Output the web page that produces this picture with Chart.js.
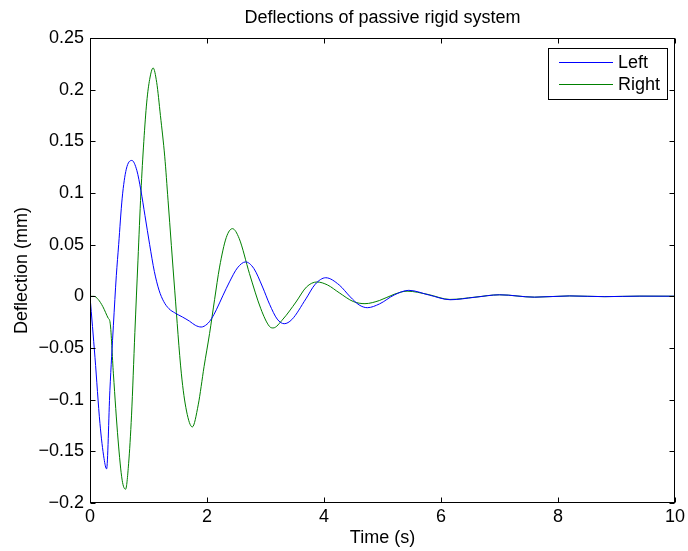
<!DOCTYPE html>
<html>
<head>
<meta charset="utf-8">
<script src="https://cdn.jsdelivr.net/npm/chart.js@4/dist/chart.umd.min.js"></script>
<style>
html,body{margin:0;padding:0;background:#fff;}
canvas{display:block;}
</style>
</head>
<body>
<canvas id="c" width="688" height="551"></canvas>
<script>
// ---- data ----
const chartTitle = 'Deflections of passive rigid system';
const xTitle = 'Time (s)';
const yTitle = 'Deflection (mm)';
const seriesNames = ['Left', 'Right'];

const leftT = [0, 0.085, 0.17, 0.24, 0.284, 0.34, 0.40, 0.45, 0.49, 0.55, 0.62, 0.716, 0.80, 0.87, 0.94, 1.02, 1.10, 1.18, 1.26, 1.35, 1.45, 1.58, 1.70, 1.80, 1.90, 2.0, 2.08, 2.16, 2.27, 2.385, 2.52, 2.66, 2.80, 2.95, 3.07, 3.20, 3.32, 3.45, 3.69, 3.85, 4.03, 4.26, 4.45, 4.6, 4.74, 4.95, 5.2, 5.45, 5.8, 6.16, 6.58, 7.0, 7.6, 8.2, 8.8, 9.4, 10];
const leftV = [0, -0.059, -0.123, -0.157, -0.167, -0.091, -0.028, 0.02, 0.05, 0.095, 0.123, 0.1315, 0.122, 0.1025, 0.078, 0.050, 0.024, 0.006, -0.005, -0.012, -0.016, -0.020, -0.024, -0.028, -0.0297, -0.027, -0.0214, -0.013, 0.0005, 0.014, 0.0275, 0.0333, 0.027, 0.009, -0.0077, -0.022, -0.0265, -0.0225, -0.0025, 0.0117, 0.018, 0.011, -0.0006, -0.0083, -0.011, -0.0073, 0.0013, 0.0058, 0.0012, -0.0033, -0.0009, 0.0015, -0.0008, 0.0004, -0.0003, 0.0002, 0.0001];

const rightT = [0, 0.07, 0.14, 0.22, 0.31, 0.345, 0.40, 0.48, 0.55, 0.608, 0.66, 0.71, 0.767, 0.82, 0.87, 0.92, 0.97, 1.02, 1.079, 1.14, 1.204, 1.278, 1.334, 1.448, 1.562, 1.65, 1.749, 1.85, 1.95, 2.044, 2.13, 2.215, 2.33, 2.435, 2.55, 2.726, 2.92, 3.066, 3.13, 3.30, 3.521, 3.70, 3.88, 4.06, 4.259, 4.5, 4.7, 4.95, 5.2, 5.42, 5.78, 6.15, 6.58, 7.0, 7.6, 8.2, 8.8, 9.4, 10];
const rightV = [0, 0.0, -0.003, -0.010, -0.021, -0.026, -0.075, -0.139, -0.178, -0.1867, -0.162, -0.115, -0.035, 0.035, 0.100, 0.150, 0.188, 0.210, 0.221, 0.207, 0.175, 0.135, 0.093, 0.006, -0.075, -0.111, -0.1264, -0.105, -0.068, -0.036, -0.003, 0.0283, 0.057, 0.0655, 0.056, 0.022, -0.012, -0.029, -0.0306, -0.022, -0.0055, 0.009, 0.0139, 0.011, 0.0035, -0.005, -0.0071, -0.004, 0.002, 0.005, 0.0018, -0.003, -0.0008, 0.0015, -0.0008, 0.0004, -0.0003, 0.0002, 0.0001];

const xTicks = [0, 2, 4, 6, 8, 10];
const xTickLabels = ['0', '2', '4', '6', '8', '10'];
const yTicks = [-0.2, -0.15, -0.1, -0.05, 0, 0.05, 0.1, 0.15, 0.2, 0.25];
const yTickLabels = ['\u22120.2', '\u22120.15', '\u22120.1', '\u22120.05', '0', '0.05', '0.1', '0.15', '0.2', '0.25'];

// ---- styling ----
const FONT = '"Liberation Sans", Arial, Helvetica, sans-serif';
const FS = 18;
const colors = ['#0000ff', '#008000'];

const toXY = (ts, vs) => ts.map((t, i) => ({x: t, y: vs[i]}));

const boxPlugin = {
  id: 'matlabBox',
  beforeDraw(chart) {
    const ctx = chart.ctx;
    ctx.save();
    ctx.fillStyle = '#fff';
    ctx.fillRect(0, 0, chart.width, chart.height);
    ctx.restore();
  },
  afterDraw(chart) {
    const {ctx, chartArea: a, scales} = chart;
    ctx.save();
    ctx.strokeStyle = '#000';
    ctx.lineWidth = 1;
    const L = Math.round(a.left) + 0.5, R = Math.round(a.right) - 0.5;
    const T = Math.round(a.top) + 0.5, B = Math.round(a.bottom) - 0.5;
    ctx.strokeRect(L, T, R - L, B - T);
    const tl = 5;
    ctx.beginPath();
    xTicks.forEach(v => {
      const px = Math.round(scales.x.getPixelForValue(v)) + 0.5;
      ctx.moveTo(px, B); ctx.lineTo(px, B - tl);
      ctx.moveTo(px, T); ctx.lineTo(px, T + tl);
    });
    yTicks.forEach(v => {
      const py = Math.round(scales.y.getPixelForValue(v)) + 0.5;
      ctx.moveTo(L, py); ctx.lineTo(L + tl, py);
      ctx.moveTo(R, py); ctx.lineTo(R - tl, py);
    });
    ctx.stroke();

    // title
    ctx.fillStyle = '#000';
    ctx.font = FS + 'px ' + FONT;
    ctx.textAlign = 'center';
    ctx.textBaseline = 'middle';
    ctx.fillText(chartTitle, (a.left + a.right) / 2, 18);

    // legend (inside, top-right)
    const lx0 = 548.5, ly0 = 48.5, lw = 119, lh = 51;
    ctx.fillStyle = '#fff';
    ctx.fillRect(lx0, ly0, lw, lh);
    ctx.strokeStyle = '#000';
    ctx.strokeRect(lx0, ly0, lw, lh);
    chart.data.datasets.forEach((ds, i) => {
      const y = 62 + i * 22;
      ctx.strokeStyle = ds.borderColor;
      ctx.beginPath();
      ctx.moveTo(559, y + 0.5); ctx.lineTo(613, y + 0.5);
      ctx.stroke();
      ctx.fillStyle = '#000';
      ctx.textAlign = 'left';
      ctx.textBaseline = 'middle';
      ctx.fillText(ds.label, 618, y + 1);
    });
    ctx.restore();
  }
};

new Chart(document.getElementById('c'), {
  type: 'line',
  data: {
    datasets: [
      {label: seriesNames[0], data: toXY(leftT, leftV), borderColor: colors[0]},
      {label: seriesNames[1], data: toXY(rightT, rightV), borderColor: colors[1]}
    ]
  },
  options: {
    responsive: false,
    animation: false,
    devicePixelRatio: 1,
    layout: {padding: {top: 38, right: 11, left: 0, bottom: 0}},
    elements: {
      line: {borderWidth: 1, cubicInterpolationMode: 'monotone', fill: false},
      point: {radius: 0}
    },
    plugins: {legend: {display: false}, title: {display: false}, tooltip: {enabled: false}},
    scales: {
      x: {
        type: 'linear', min: 0, max: 10,
        grid: {display: false, drawTicks: false}, border: {display: false},
        afterBuildTicks: s => { s.ticks = xTicks.map(v => ({value: v})); },
        afterFit: s => { s.height = 48; },
        ticks: {
          color: '#000', padding: 3, maxRotation: 0, autoSkip: false,
          font: {family: FONT, size: FS},
          callback: (v, i) => xTickLabels[i]
        },
        title: {display: true, text: xTitle, color: '#000', font: {family: FONT, size: FS}, padding: {top: 0, bottom: 2}}
      },
      y: {
        type: 'linear', min: -0.2, max: 0.25,
        grid: {display: false, drawTicks: false}, border: {display: false},
        afterBuildTicks: s => { s.ticks = yTicks.map(v => ({value: v})); },
        afterFit: s => { s.width = 90; },
        ticks: {
          color: '#000', padding: 6, autoSkip: false,
          font: {family: FONT, size: FS},
          callback: (v, i) => yTickLabels[i]
        },
        title: {display: true, text: yTitle, color: '#000', font: {family: FONT, size: FS}, padding: {top: 11, bottom: 0}}
      }
    }
  },
  plugins: [boxPlugin]
});
</script>
</body>
</html>
